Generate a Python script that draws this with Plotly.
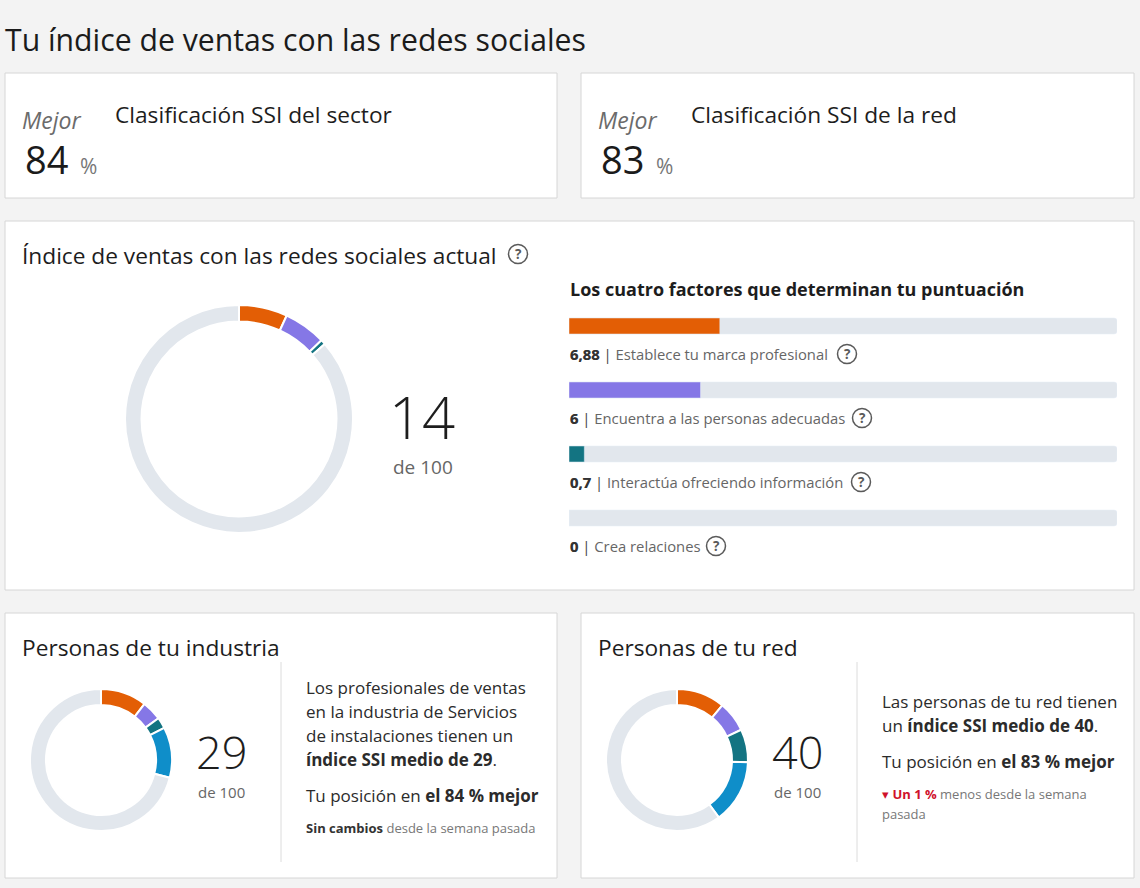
import plotly.graph_objects as go

W, H = 1140, 888

# ---------------- data ----------------
factor_names = ["Establece tu marca profesional", "Encuentra a las personas adecuadas",
                "Interactúa ofreciendo información", "Crea relaciones"]
factor_values = [6.88, 6, 0.7, 0]
factor_labels = ["6,88", "6", "0,7", "0"]
factor_max = 25
ssi_score = 14
sector_rank = 84
network_rank = 83
industry_parts = [10.5, 4.5, 2.5, 11.5]
industry_avg = 29
network_parts = [11, 7, 7.5, 14.5]
network_avg = 40

colors = ["#e35e05", "#8577e6", "#137482", "#0f8ec9"]
ring_gray = "#e2e7ed"
FONT = "Open Sans"


def px(x):
    return x / W


def py(y):
    return 1 - y / H


fig = go.Figure()

# ---------------- donuts ----------------
def donut(parts, cols, cx, cy, r, hole):
    vals = list(parts) + [100 - sum(parts)]
    fig.add_trace(go.Pie(
        values=vals, marker=dict(colors=list(cols) + [ring_gray], line=dict(color="white", width=2)),
        sort=False, direction="clockwise", rotation=0, hole=hole,
        textinfo="none", hoverinfo="skip", showlegend=False,
        domain=dict(x=[px(cx - r), px(cx + r)], y=[py(cy + r), py(cy - r)])))


donut(factor_values, colors, 239, 419, 114, 0.855)
donut(industry_parts, colors, 101, 760, 71, 0.775)
donut(network_parts, colors, 677, 760, 71, 0.775)

# ---------------- factor bars ----------------
ypos = list(range(len(factor_values)))
fig.add_trace(go.Bar(x=[factor_max] * len(ypos), y=ypos, orientation="h", width=0.25,
                     marker=dict(color=ring_gray, cornerradius=3), hoverinfo="skip", showlegend=False))
fig.add_trace(go.Bar(x=factor_values, y=ypos, orientation="h", width=0.25,
                     marker=dict(color=colors, cornerradius=3), hoverinfo="skip", showlegend=False))

fig.update_layout(
    barmode="overlay",
    xaxis=dict(domain=[px(569), px(1117)], range=[0, factor_max], visible=False, fixedrange=True),
    yaxis=dict(domain=[py(550), py(294)], range=[3.5, -0.5], visible=False, fixedrange=True),
)

# ---------------- shapes: cards ----------------
shapes = []
def card(x0, y0, x1, y1):
    shapes.append(dict(type="rect", xref="paper", yref="paper", x0=px(x0), x1=px(x1), y0=py(y1), y1=py(y0),
                       fillcolor="white", line=dict(color="#d6d6d6", width=1), layer="below"))

card(5, 73, 557, 198)
card(581, 73, 1134, 198)
card(5, 221, 1134, 590)
card(5, 613, 557, 878)
card(581, 613, 1134, 878)

# dividers
for x in (281, 857):
    shapes.append(dict(type="line", xref="paper", yref="paper", x0=px(x), x1=px(x), y0=py(862), y1=py(662),
                       line=dict(color="#dcdcdc", width=1)))

ann = []
def text(x, y, s, size, color="#1d1d1d", xanchor="left", yanchor="middle", weight=None, family=FONT):
    f = dict(family=family, size=size, color=color)
    if weight:
        f["weight"] = weight
    ann.append(dict(x=px(x), y=py(y), xref="paper", yref="paper", text=s, showarrow=False,
                    xanchor=xanchor, yanchor=yanchor, font=f, align="left"))

def qicon(cx, cy, r=9.5):
    shapes.append(dict(type="circle", xref="paper", yref="paper", x0=px(cx - r), x1=px(cx + r),
                       y0=py(cy + r), y1=py(cy - r), line=dict(color="#5a5a5a", width=1.5)))
    text(cx, cy, "<b>?</b>", 13.5, "#5a5a5a", xanchor="center")

# title
text(3, 39, "Tu índice de ventas con las redes sociales", 30.2, "#1b1b1b")

# top cards
for dx, rank, label in ((0, sector_rank, "Clasificación SSI del sector"), (576, network_rank, "Clasificación SSI de la red")):
    text(20 + dx, 120, "<i>Mejor</i>", 23, "#6b6b6b")
    text(23 + dx, 159, str(rank), 38, "#1b1b1b")
    text(78 + dx, 166, "%", 21, "#777777")
    text(113 + dx, 115, label, 22.7, "#1d1d1d")

# main card
text(20, 255, "Índice de ventas con las redes sociales actual", 22.7, "#1d1d1d")
qicon(518, 254)
text(422, 417, str(ssi_score), 58, "#1d1d1d", xanchor="center", weight=300)
text(423, 467, "de 100", 19, "#666666", xanchor="center")
text(568, 289, "<b>Los cuatro factores que determinan tu puntuación</b>", 18, "#1d1d1d")

icon_x = [847, 862, 861, 716]
for i, (lab, name) in enumerate(zip(factor_labels, factor_names)):
    yy = 354 + 64 * i
    text(568, yy, f"<b>{lab}</b> <span style='color:#444'>|</span> {name}", 14.8, "#666666")
    text(568, yy, f"<b>{lab}</b>", 14.8, "#333333")
    qicon(icon_x[i], yy)

# industry card
text(20, 647, "Personas de tu industria", 22.7, "#1d1d1d")
text(221, 751, str(industry_avg), 45, "#1d1d1d", xanchor="center", weight=300)
text(221, 792, "de 100", 15, "#666666", xanchor="center")
ind_lines = ["Los profesionales de ventas", "en la industria de Servicios", "de instalaciones tienen un",
             f"<b>índice SSI medio de {industry_avg}</b>."]
for i, l in enumerate(ind_lines):
    text(304, 687 + 24 * i, l, 17, "#2b2b2b")
text(304, 795, f"Tu posición en <b>el {sector_rank} % mejor</b>", 17, "#2b2b2b")
text(304, 828, "<b><span style='color:#333'>Sin cambios</span></b> desde la semana pasada", 13, "#777777")

# network card
text(596, 647, "Personas de tu red", 22.7, "#1d1d1d")
text(797, 751, str(network_avg), 45, "#1d1d1d", xanchor="center", weight=300)
text(797, 792, "de 100", 15, "#666666", xanchor="center")
text(880, 701, "Las personas de tu red tienen", 17, "#2b2b2b")
text(880, 725, f"un <b>índice SSI medio de {network_avg}</b>.", 17, "#2b2b2b")
text(880, 761, f"Tu posición en <b>el {network_rank} % mejor</b>", 17, "#2b2b2b")
text(880, 794, "<span style='color:#d0112b'>▾ <b>Un 1 %</b></span> menos desde la semana", 13, "#777777")
text(880, 814, "pasada", 13, "#777777")

fig.update_layout(
    width=W, height=H, autosize=False,
    margin=dict(l=0, r=0, t=0, b=0),
    paper_bgcolor="#f3f3f3", plot_bgcolor="rgba(0,0,0,0)",
    shapes=shapes, annotations=ann, showlegend=False,
    font=dict(family=FONT),
)

fig.write_html("out.html", config=dict(displayModeBar=False, staticPlot=True),
               post_script="document.body.style.margin='0px';document.body.style.overflow='hidden';")
